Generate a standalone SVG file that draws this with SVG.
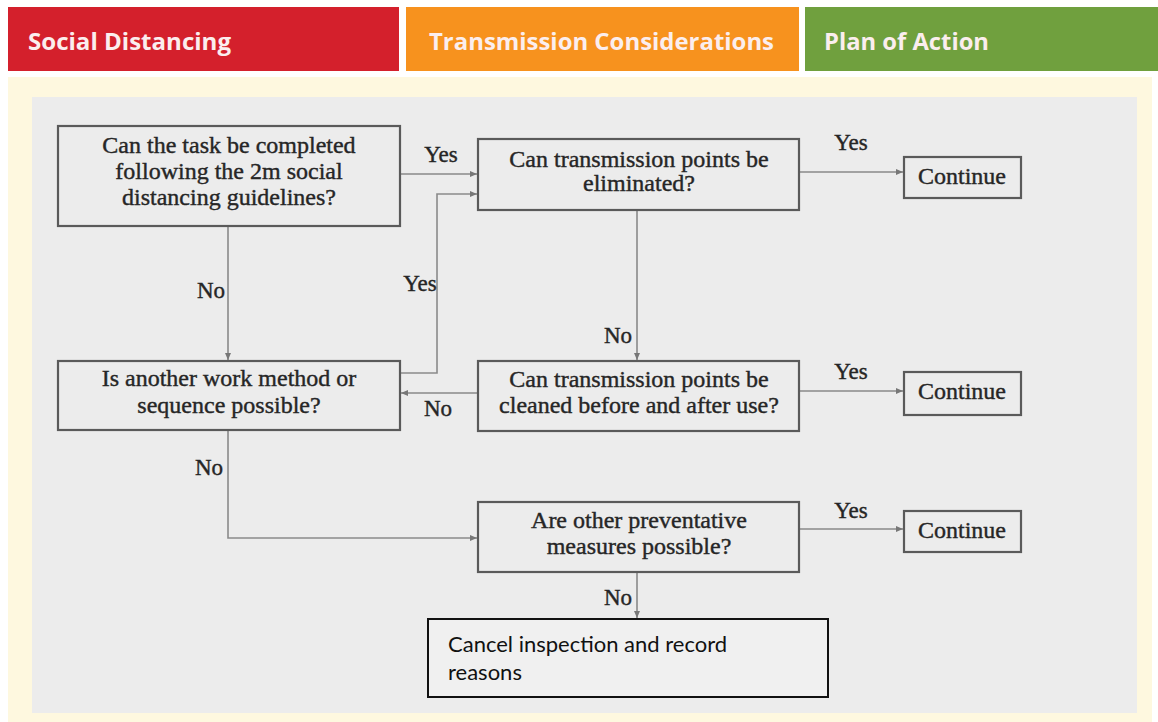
<svg xmlns="http://www.w3.org/2000/svg" width="1158" height="722" viewBox="0 0 1158 722">
<style>
.hdr{font-family:"Open Sans","Liberation Sans",sans-serif;font-weight:700;font-size:24px;fill:#fbeeee}
.box{fill:none;stroke:#5a5a5a;stroke-width:2.2}
.t{font-family:"Liberation Serif","DejaVu Serif",serif;font-size:24px;fill:#262626;stroke:#262626;stroke-width:0.4;text-anchor:middle}
.lbl{font-family:"Liberation Serif","DejaVu Serif",serif;font-size:23px;fill:#262626;stroke:#262626;stroke-width:0.4;text-anchor:middle}
.con{fill:none;stroke:#8a8a8a;stroke-width:1.6}
.cbox{fill:#f0f0f0;stroke:#111;stroke-width:2}
.ct{font-family:"Lato","Liberation Sans",sans-serif;font-size:22px;fill:#111}
</style>
<defs>
<marker id="ah" markerUnits="userSpaceOnUse" markerWidth="8" markerHeight="8" refX="7" refY="4" orient="auto">
<path d="M0,1 L7,4 L0,7 Z" fill="#777"/>
</marker>
</defs>
<rect x="0" y="0" width="1158" height="722" fill="#ffffff"/>
<g id="header">
<rect x="8" y="7" width="391" height="64" fill="#d4202c"/>
<rect x="406" y="7" width="393" height="64" fill="#f7921e"/>
<rect x="805" y="7" width="353" height="64" fill="#70a03e"/>
<text class="hdr" x="28" y="50" textLength="203" lengthAdjust="spacingAndGlyphs">Social Distancing</text>
<text class="hdr" x="429" y="50" textLength="345" lengthAdjust="spacingAndGlyphs">Transmission Considerations</text>
<text class="hdr" x="824" y="50" textLength="165" lengthAdjust="spacingAndGlyphs">Plan of Action</text>
</g>
<rect x="8" y="77" width="1144" height="645" fill="#fef8df"/>
<rect x="32" y="97" width="1105" height="616" fill="#ececec"/>
<g id="connectors">
<path class="con" d="M400,174 H477" marker-end="url(#ah)"/>
<path class="con" d="M228,226 V360" marker-end="url(#ah)"/>
<path class="con" d="M400,373 H437 V194 H477" marker-end="url(#ah)"/>
<path class="con" d="M799,172 H903" marker-end="url(#ah)"/>
<path class="con" d="M637,210 V360" marker-end="url(#ah)"/>
<path class="con" d="M478,393 H401" marker-end="url(#ah)"/>
<path class="con" d="M799,391 H903" marker-end="url(#ah)"/>
<path class="con" d="M228,430 V538 H477" marker-end="url(#ah)"/>
<path class="con" d="M799,529 H903" marker-end="url(#ah)"/>
<path class="con" d="M637,572 V618" marker-end="url(#ah)"/>
<text class="lbl" x="441" y="162">Yes</text>
<text class="lbl" x="211" y="298">No</text>
<text class="lbl" x="420" y="291">Yes</text>
<text class="lbl" x="851" y="150">Yes</text>
<text class="lbl" x="618" y="343">No</text>
<text class="lbl" x="438" y="416">No</text>
<text class="lbl" x="851" y="379">Yes</text>
<text class="lbl" x="209" y="475">No</text>
<text class="lbl" x="851" y="518">Yes</text>
<text class="lbl" x="618" y="605">No</text>
</g>
<g id="n1">
<rect class="box" x="58" y="126" width="342" height="100"/>
<text class="t" x="229" y="153">Can the task be completed</text>
<text class="t" x="229" y="179">following the 2m social</text>
<text class="t" x="229" y="205">distancing guidelines?</text>
</g>
<g id="n2">
<rect class="box" x="478" y="139" width="321" height="71"/>
<text class="t" x="639" y="167">Can transmission points be</text>
<text class="t" x="639" y="191">eliminated?</text>
</g>
<g id="n3">
<rect class="box" x="58" y="361" width="342" height="69"/>
<text class="t" x="229" y="386">Is another work method or</text>
<text class="t" x="229" y="413">sequence possible?</text>
</g>
<g id="n4">
<rect class="box" x="478" y="361" width="321" height="70"/>
<text class="t" x="639" y="387">Can transmission points be</text>
<text class="t" x="639" y="413">cleaned before and after use?</text>
</g>
<g id="n5">
<rect class="box" x="478" y="502" width="321" height="70"/>
<text class="t" x="639" y="528">Are other preventative</text>
<text class="t" x="639" y="554">measures possible?</text>
</g>
<g id="c1">
<rect class="box" x="904" y="157" width="117" height="41"/>
<text class="t" x="962" y="184">Continue</text>
</g>
<g id="c2">
<rect class="box" x="904" y="372" width="117" height="43"/>
<text class="t" x="962" y="399">Continue</text>
</g>
<g id="c3">
<rect class="box" x="904" y="511" width="117" height="41"/>
<text class="t" x="962" y="538">Continue</text>
</g>
<g id="n6">
<rect class="cbox" x="428" y="619" width="400" height="78"/>
<text class="ct" x="448" y="652">Cancel inspection and record</text>
<text class="ct" x="448" y="680">reasons</text>
</g>
</svg>
